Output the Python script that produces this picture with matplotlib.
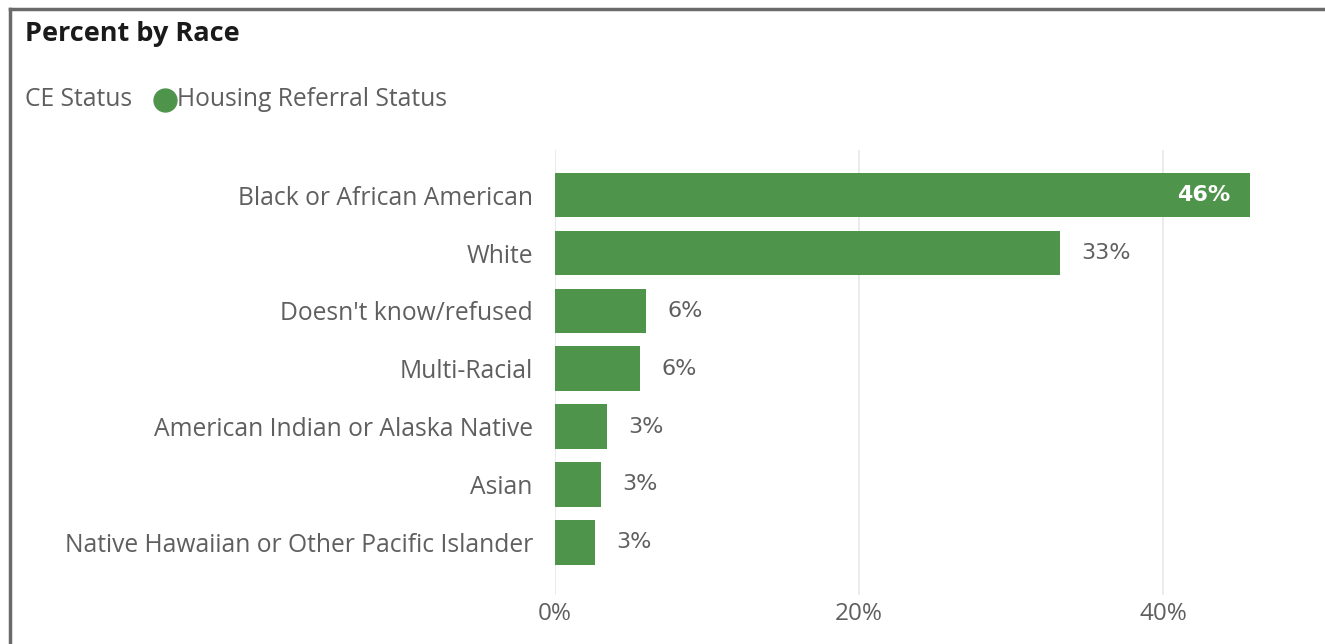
import matplotlib.pyplot as plt
from matplotlib.lines import Line2D

categories = ['Black or African American', 'White', "Doesn't know/refused", 'Multi-Racial',
              'American Indian or Alaska Native', 'Asian', 'Native Hawaiian or Other Pacific Islander']
values = [45.7, 33.2, 6.0, 5.6, 3.4, 3.0, 2.6]
labels = ['46%', '33%', '6%', '6%', '3%', '3%', '3%']
xticks = [0, 20, 40]
xticklabels = ['0%', '20%', '40%']

GREEN = '#4f944b'
GRAY = '#5f5f5f'
plt.rcParams['font.family'] = ['Open Sans', 'DejaVu Sans']

fig = plt.figure(figsize=(13.25, 6.44), dpi=100)
ax = fig.add_axes([555 / 1325, 1 - 595 / 644, 730 / 1325, 445 / 644])

y = list(range(len(categories)))
ax.barh(y, values, height=0.77, color=GREEN, zorder=2)
ax.set_ylim(6.91, -0.78)
ax.set_xlim(0, 48)

for i, (v, lab) in enumerate(zip(values, labels)):
    if v > 40:
        ax.text(v - 1.3, i, lab, ha='right', va='center', color='white', fontsize=16,
                fontweight='bold', family=['DejaVu Sans'])
    else:
        ax.text(v + 1.4, i, lab, ha='left', va='center', color=GRAY, fontsize=16,
                family=['DejaVu Sans'])

ax.set_yticks(y)
ax.set_yticklabels(categories, fontsize=17.7, color=GRAY)
ax.set_xticks(xticks)
ax.set_xticklabels(xticklabels, fontsize=17.5, color=GRAY)
ax.tick_params(axis='both', length=0)
ax.tick_params(axis='y', pad=16)
ax.tick_params(axis='x', pad=5)
ax.grid(axis='x', color='#e8e8e8', linewidth=1.2, zorder=0)
for s in ax.spines.values():
    s.set_visible(False)

# title and legend
fig.text(25 / 1325, 1 - 34 / 644, 'Percent by Race', fontsize=19.5, fontweight='bold',
         color='#1a1a1a', va='center', ha='left')
fig.text(25 / 1325, 1 - 100 / 644, 'CE Status', fontsize=17.7, color=GRAY, va='center', ha='left')
fig.add_artist(Line2D([165 / 1325], [1 - 100 / 644], marker='o', markersize=16.5,
                      color=GREEN, linestyle='none'))
fig.text(177 / 1325, 1 - 100 / 644, 'Housing Referral Status', fontsize=17.7, color=GRAY,
         va='center', ha='left')

# frame border (top and left)
fig.add_artist(Line2D([10 / 1325, 1], [1 - 9 / 644, 1 - 9 / 644], color='#6a6a6a', linewidth=2.5))
fig.add_artist(Line2D([10 / 1325, 10 / 1325], [0, 1 - 9 / 644], color='#6a6a6a', linewidth=2.5))

fig.savefig('out.png', dpi=100)
